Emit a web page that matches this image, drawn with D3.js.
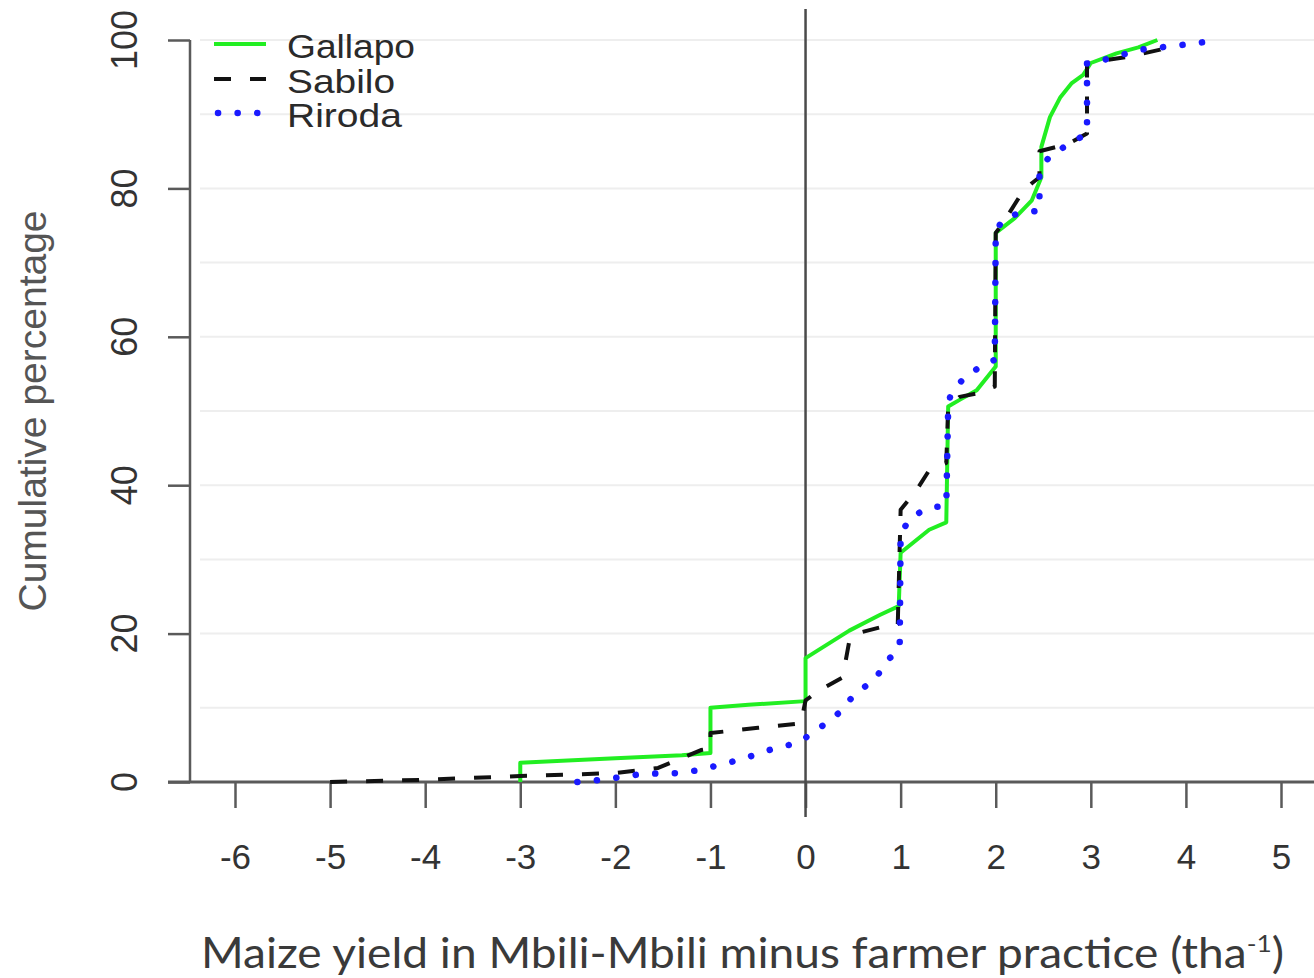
<!DOCTYPE html>
<html><head><meta charset="utf-8">
<script src="https://cdn.jsdelivr.net/npm/d3@7/dist/d3.min.js"></script>
<style>body{margin:0;background:#fff}svg{display:block}</style>
</head><body><svg id="c" width="1314" height="978"></svg>
<script>
const seriesNames = ["Gallapo", "Sabilo", "Riroda"];
const xTicks = [-6, -5, -4, -3, -2, -1, 0, 1, 2, 3, 4, 5];
const yTicks = [0, 20, 40, 60, 80, 100];
const gridVals = [10, 20, 30, 40, 50, 60, 70, 80, 90, 100];
// [yield difference, cumulative %]
const gallapo = [[-3.0,0],[-3.0,2.6],[-2.0,3.2],[-1.3,3.6],[-1.0,3.9],[-1.0,10.0],[-0.6,10.4],[0,10.9],[0,16.7],[0.46,20.4],[0.78,22.5],[0.98,23.7],[1.0,30.9],[1.3,34.0],[1.48,35.0],[1.5,50.6],[1.62,51.5],[1.8,52.8],[2.0,56.0],[2.0,74.0],[2.2,76.0],[2.38,78.4],[2.48,81.5],[2.48,85.6],[2.57,89.6],[2.68,92.3],[2.8,94.2],[2.92,95.3],[3.0,96.9],[3.27,98.2],[3.5,99.0],[3.7,100]];
const sabilo = [[-5.0,0],[-4.0,0.3],[-3.0,0.8],[-2.0,1.2],[-1.55,1.9],[-1.1,4.3],[-1.0,4.5],[-1.0,6.6],[-0.5,7.3],[-0.05,7.9],[0,11.0],[0.15,12.4],[0.39,14.1],[0.46,19.0],[0.53,20.0],[0.8,20.9],[0.97,21.3],[1.0,36.7],[1.17,39.4],[1.3,42.0],[1.48,43.0],[1.5,50.6],[1.62,51.9],[1.81,52.4],[1.99,53.3],[2.0,74.0],[2.07,75.2],[2.28,79.5],[2.38,80.7],[2.46,81.5],[2.46,85.0],[2.76,86.0],[2.96,87.4],[2.96,96.9],[3.1,97.2],[3.38,97.7],[3.73,98.7],[3.85,99.7]];
const riroda = [[-2.4,0],[-2.14,0.3],[-1.71,1.1],[-1.33,1.2],[-1.12,1.6],[-0.69,3.0],[-0.31,4.6],[-0.1,5.2],[0.08,6.6],[0.23,8.1],[0.39,9.7],[0.52,12.0],[0.73,13.7],[0.83,16.0],[0.99,18.0],[1.0,33.5],[1.11,35.7],[1.3,37.0],[1.48,37.2],[1.5,50.5],[1.52,51.9],[1.67,54.6],[1.87,56.2],[1.99,56.9],[2.0,74.0],[2.07,75.8],[2.25,76.7],[2.46,77.0],[2.46,82.0],[2.57,84.5],[2.75,85.8],[2.96,87.4],[2.96,96.9],[3.13,97.3],[3.52,98.7],[3.94,99.3],[4.36,100]];

const svg = d3.select("#c");
const x = d3.scaleLinear().domain([-6, 5]).range([235, 1281]);
const y = d3.scaleLinear().domain([0, 100]).range([782, 40]);
const axisCol = "#5a5a5a";

// grid
svg.append("g").selectAll("line").data(gridVals).join("line")
  .attr("x1", 200).attr("x2", 1314).attr("y1", d => y(d)).attr("y2", d => y(d))
  .attr("stroke", "#eeeeee").attr("stroke-width", 2);

// baseline and y axis line
svg.append("line").attr("x1", 168).attr("x2", 1314).attr("y1", y(0)).attr("y2", y(0))
  .attr("stroke", axisCol).attr("stroke-width", 3);
svg.append("line").attr("x1", 190).attr("x2", 190).attr("y1", y(100)).attr("y2", y(0))
  .attr("stroke", axisCol).attr("stroke-width", 2.5);

// x axis
const gx = svg.append("g").attr("transform", `translate(0,${y(0)})`)
  .call(d3.axisBottom(x).tickValues(xTicks).tickSize(26).tickPadding(36).tickFormat(d3.format("d")));
gx.select(".domain").remove();
gx.selectAll(".tick line").attr("stroke", axisCol).attr("stroke-width", 2.5);
gx.selectAll(".tick text").attr("font-family", "Liberation Sans, Arial, sans-serif")
  .attr("font-size", 35).attr("fill", "#333333").text(d => d < 0 ? "-" + Math.abs(d) : d);

// y axis
const gy = svg.append("g").attr("transform", "translate(190,0)")
  .call(d3.axisLeft(y).tickValues(yTicks).tickSize(22).tickFormat(""));
gy.select(".domain").remove();
gy.selectAll(".tick line").attr("stroke", axisCol).attr("stroke-width", 2.5);
svg.append("g").selectAll("text").data(yTicks).join("text")
  .attr("transform", d => `translate(137,${y(d)}) rotate(-90)`)
  .attr("text-anchor", "middle").attr("font-family", "Liberation Sans, Arial, sans-serif")
  .attr("font-size", 36).attr("fill", "#333333").text(d => d);

// zero line
svg.append("line").attr("x1", x(0)).attr("x2", x(0)).attr("y1", 9).attr("y2", 817)
  .attr("stroke", "#4a4a4a").attr("stroke-width", 2.5);

// series
const line = d3.line().x(d => x(d[0])).y(d => y(d[1]));
const styles = [
  {data: gallapo, color: "#22ee22", width: 4, dash: null, cap: "butt"},
  {data: sabilo, color: "#111111", width: 4, dash: "17,19", cap: "butt"},
  {data: riroda, color: "#1a1aff", width: 6.5, dash: "0.1,19.5", cap: "round"}
];
svg.append("g").selectAll("path").data(styles).join("path")
  .attr("d", d => line(d.data)).attr("fill", "none")
  .attr("stroke", d => d.color).attr("stroke-width", d => d.width)
  .attr("stroke-dasharray", d => d.dash).attr("stroke-linecap", d => d.cap)
  .attr("stroke-linejoin", "round");

// legend
const lg = svg.append("g");
const legY = [44, 79, 113];
lg.selectAll("line").data(styles).join("line")
  .attr("x1", (d, i) => i === 2 ? 218 : 214).attr("x2", 266)
  .attr("y1", (d, i) => legY[i]).attr("y2", (d, i) => legY[i])
  .attr("stroke", d => d.color).attr("stroke-width", d => d.width)
  .attr("stroke-dasharray", d => d.dash).attr("stroke-linecap", d => d.cap);
lg.selectAll("text").data(seriesNames).join("text")
  .attr("x", 287).attr("y", (d, i) => legY[i] + 14)
  .attr("font-family", "Liberation Sans, Arial, sans-serif").attr("font-size", 33)
  .attr("textLength", (d, i) => [128, 108, 115][i]).attr("lengthAdjust", "spacingAndGlyphs")
  .attr("fill", "#2a2a2a").text(d => d);

// axis titles
svg.append("text").attr("transform", "translate(46,411) rotate(-90)")
  .attr("text-anchor", "middle").attr("font-family", "Liberation Sans, Arial, sans-serif")
  .attr("font-size", 39).attr("fill", "#555555").text("Cumulative percentage");

const xt = svg.append("text").attr("x", 201).attr("y", 968)
  .attr("font-family", "Lato, Open Sans, sans-serif").attr("font-size", 42).attr("fill", "#3a3a3a")
  .attr("textLength", 1083).attr("lengthAdjust", "spacingAndGlyphs");
xt.append("tspan").text("Maize yield in Mbili-Mbili minus farmer practice (tha");
xt.append("tspan").attr("dy", -16).attr("font-size", 24).text("-1");
xt.append("tspan").attr("dy", 16).text(")");
</script></body></html>
